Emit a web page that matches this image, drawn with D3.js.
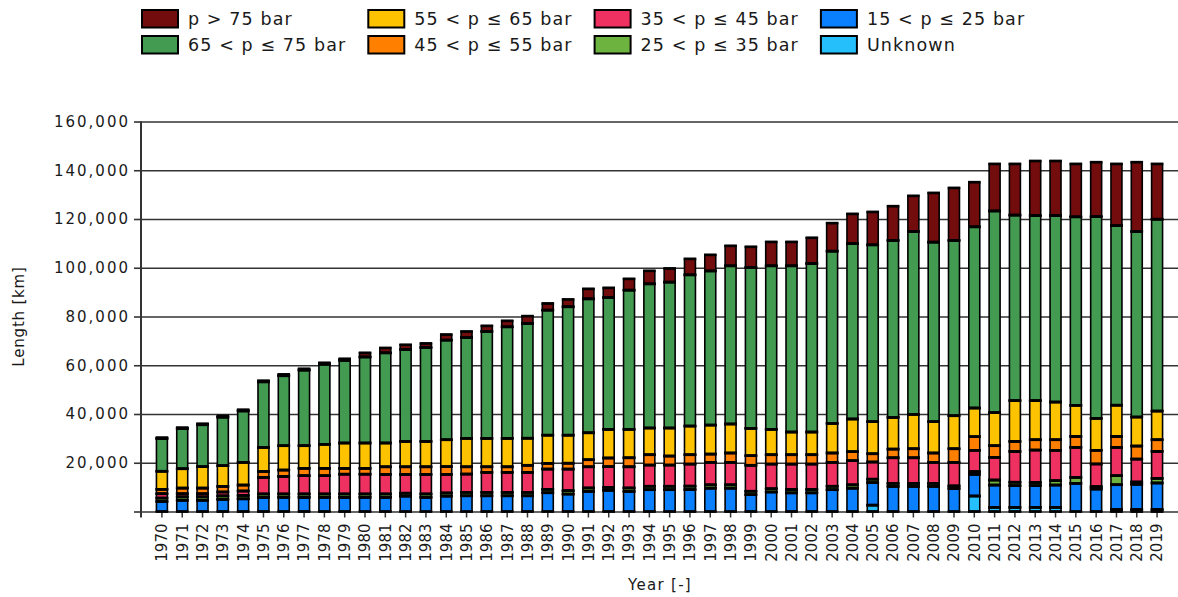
<!DOCTYPE html>
<html>
<head>
<meta charset="utf-8">
<script src="https://cdn.jsdelivr.net/npm/d3@7"></script>
<style>
  body { margin: 0; background: #fff; }
  text { font-family: Verdana, "DejaVu Sans", sans-serif; fill: #1a1a1a; }
</style>
</head>
<body>
<div id="chart"></div>
<script>
var years = [1970, 1971, 1972, 1973, 1974, 1975, 1976, 1977, 1978, 1979,
  1980, 1981, 1982, 1983, 1984, 1985, 1986, 1987, 1988, 1989,
  1990, 1991, 1992, 1993, 1994, 1995, 1996, 1997, 1998, 1999,
  2000, 2001, 2002, 2003, 2004, 2005, 2006, 2007, 2008, 2009,
  2010, 2011, 2012, 2013, 2014, 2015, 2016, 2017, 2018, 2019];

// length in km per pressure class
var unknown = [0, 0, 0, 0, 0, 0, 0, 0, 0, 0,
  0, 0, 0, 0, 0, 0, 0, 0, 0, 0,
  0, 0, 0, 0, 0, 0, 0, 0, 0, 0,
  0, 0, 0, 0, 0, 2600, 0, 0, 0, 0,
  6350, 1700, 1700, 1700, 1700, 0, 0, 800, 800, 800];
var p15to25 = [4100, 4600, 4600, 5000, 5200, 5800, 5800, 5800, 5800, 5800,
  5800, 5800, 6300, 5800, 6300, 6450, 6450, 6450, 6450, 7700,
  7150, 8250, 8700, 8250, 8950, 8950, 9000, 9550, 9550, 6900,
  8000, 7650, 7650, 8950, 9550, 9250, 10300, 10300, 10300, 9400,
  8900, 9150, 8900, 8900, 9150, 11550, 9200, 10200, 10350, 10900];
var p25to35 = [1400, 1400, 1400, 1400, 1400, 1400, 1400, 1400, 1400, 1400,
  1400, 1400, 1200, 1400, 1300, 1400, 1400, 1400, 1400, 1400,
  1400, 1400, 1200, 1400, 1400, 1400, 1400, 1400, 1400, 1400,
  1350, 1400, 1400, 1400, 1400, 1400, 1250, 1250, 1250, 1100,
  1100, 2050, 1400, 1300, 1800, 2450, 1000, 3700, 950, 1900];
var p35to45 = [1800, 1300, 1300, 1600, 1800, 6800, 7200, 7500, 7500, 8100,
  8100, 8000, 7700, 8000, 7600, 7500, 8200, 8200, 8200, 8300,
  8850, 8700, 8500, 8700, 8700, 8700, 9050, 9200, 9200, 10650,
  10100, 10400, 10400, 9800, 9900, 7050, 10500, 10500, 8600, 9650,
  8750, 9300, 12650, 13300, 12450, 12300, 9300, 11600, 9400, 11050];
var p45to55 = [1800, 2300, 2300, 2300, 2450, 2450, 2600, 3000, 3000, 2400,
  2400, 3150, 3150, 3150, 3200, 3000, 2300, 2300, 2900, 2350,
  2400, 2900, 3550, 3700, 4250, 3700, 3850, 3400, 3850, 3950,
  3850, 3850, 3850, 3850, 3700, 3400, 3550, 3700, 3850, 5600,
  5600, 4800, 4100, 4250, 4350, 4500, 5600, 4500, 5350, 4800];
var p55to65 = [7400, 7950, 8800, 8500, 9300, 9850, 10000, 9300, 9850, 10400,
  10400, 9750, 10400, 10400, 11050, 11650, 11650, 11650, 11100, 11550,
  11500, 11050, 11750, 11650, 10950, 11500, 11750, 11900, 11900, 11200,
  10400, 9300, 9300, 12150, 13400, 13150, 13000, 14100, 12850, 13550,
  11750, 13600, 16750, 16050, 15450, 12750, 13100, 12800, 11900, 11750];
var p65to75 = [13400, 16450, 17200, 19900, 21100, 26900, 28700, 31000, 32850, 33900,
  35300, 37000, 37750, 38550, 40850, 41400, 43870, 45770, 47100, 51300,
  52700, 54950, 54100, 57100, 59150, 59850, 62050, 63250, 64900, 66000,
  67100, 68200, 69150, 70650, 72000, 72550, 72600, 75030, 73650, 71900,
  74350, 82700, 76100, 75900, 76500, 77350, 82800, 73700, 76150, 78700];
var over75 = [400, 400, 400, 500, 500, 450, 550, 550, 600, 650,
  1700, 2000, 1900, 1650, 2300, 2450, 2300, 2460, 3000, 2750,
  3000, 4100, 3950, 4650, 5350, 5600, 6550, 6600, 8200, 8500,
  9800, 9800, 10550, 11500, 12150, 13500, 14050, 14620, 20200, 21550,
  18300, 19300, 21000, 22400, 22400, 21700, 22300, 25300, 28400, 22700];

var seriesKeys = ["Unknown", "15 < p ≤ 25 bar", "25 < p ≤ 35 bar", "35 < p ≤ 45 bar",
  "45 < p ≤ 55 bar", "55 < p ≤ 65 bar", "65 < p ≤ 75 bar", "p > 75 bar"];
var seriesValues = [unknown, p15to25, p25to35, p35to45, p45to55, p55to65, p65to75, over75];
var seriesColors = ["#25c0fc", "#0a80ff", "#6db33f", "#ef3161",
  "#ff8000", "#fec300", "#439b52", "#730c0c"];
// legend is filled column by column
var legendOrder = ["p > 75 bar", "65 < p ≤ 75 bar", "55 < p ≤ 65 bar", "45 < p ≤ 55 bar",
  "35 < p ≤ 45 bar", "25 < p ≤ 35 bar", "15 < p ≤ 25 bar", "Unknown"];
var yTicks = [0, 20000, 40000, 60000, 80000, 100000, 120000, 140000, 160000];

var rows = years.map(function (yr, i) {
  var row = { year: yr };
  seriesKeys.forEach(function (k, j) { row[k] = seriesValues[j][i]; });
  return row;
});

var color = d3.scaleOrdinal().domain(seriesKeys).range(seriesColors);

var W = 1178, H = 597;
var plotLeft = 141, plotRight = 1178, plotTop = 121.5, plotBottom = 511.5;

var svg = d3.select("#chart").append("svg")
  .attr("width", W).attr("height", H);

var x = d3.scaleBand()
  .domain(years)
  .range([plotLeft, plotRight])
  .paddingInner(0.46)
  .paddingOuter(0.76);

var y = d3.scaleLinear()
  .domain([0, 160000])
  .range([plotBottom, plotTop]);

// grid lines
svg.append("g")
  .attr("transform", "translate(" + plotLeft + ",0)")
  .call(d3.axisLeft(y).tickValues(yTicks).tickSize(-(plotRight - plotLeft)).tickFormat(""))
  .call(function (g) { g.select(".domain").remove(); })
  .call(function (g) {
    g.selectAll(".tick line").attr("stroke", "#333").attr("stroke-width", 1.6);
  });

// y axis with labels
svg.append("g")
  .attr("transform", "translate(" + plotLeft + ",0)")
  .call(d3.axisLeft(y).tickValues(yTicks).tickSize(7).tickPadding(6)
    .tickFormat(function (d) { return d === 0 ? "" : d3.format(",")(d); }))
  .call(function (g) { g.select(".domain").remove(); })
  .call(function (g) {
    g.selectAll(".tick line").attr("stroke", "#333").attr("stroke-width", 1.6);
    g.selectAll(".tick text")
      .style("font-size", "15px")
      .style("letter-spacing", "2px")
      .attr("dx", "2px")
      .style("font-family", "Verdana, 'DejaVu Sans', sans-serif")
      .attr("fill", "#1a1a1a");
  });

svg.append("line")
  .attr("x1", plotLeft).attr("x2", plotLeft)
  .attr("y1", plotTop).attr("y2", plotBottom + 6)
  .attr("stroke", "#333").attr("stroke-width", 2);

// x axis
svg.append("g")
  .attr("transform", "translate(0," + plotBottom + ")")
  .call(d3.axisBottom(x).tickSize(6))
  .call(function (g) { g.select(".domain").remove(); })
  .call(function (g) {
    g.selectAll(".tick line").attr("stroke", "#333").attr("stroke-width", 1.5);
    g.selectAll(".tick text")
      .attr("transform", "rotate(-90)")
      .attr("x", -12)
      .attr("y", 0)
      .attr("dy", "0.36em")
      .style("text-anchor", "end")
      .style("font-size", "15px")
      .style("font-family", "Verdana, 'DejaVu Sans', sans-serif")
      .attr("fill", "#1a1a1a");
  });

// stacked bars
var stacked = d3.stack().keys(seriesKeys)(rows);

var layers = svg.append("g").attr("class", "bars")
  .selectAll("g")
  .data(stacked)
  .enter()
  .append("g")
  .attr("fill", function (d) { return color(d.key); });

layers.selectAll("rect")
  .data(function (d) { return d.filter(function (s) { return s[1] - s[0] > 0; }); })
  .enter()
  .append("rect")
  .attr("x", function (d) { return x(d.data.year); })
  .attr("width", x.bandwidth())
  .attr("y", function (d) { return y(d[1]); })
  .attr("height", function (d) { return y(d[0]) - y(d[1]); })
  .attr("stroke", "black")
  .attr("stroke-width", 1.6);

// horizontal segment edges are drawn heavier
var edges = [];
stacked.forEach(function (layer) {
  layer.forEach(function (s) {
    if (s[1] - s[0] > 0) {
      edges.push({ year: s.data.year, v: s[0] });
      edges.push({ year: s.data.year, v: s[1] });
    }
  });
});

svg.append("g").selectAll("line")
  .data(edges)
  .enter()
  .append("line")
  .attr("x1", function (d) { return x(d.year) - 0.8; })
  .attr("x2", function (d) { return x(d.year) + x.bandwidth() + 0.8; })
  .attr("y1", function (d) { return y(d.v); })
  .attr("y2", function (d) { return y(d.v); })
  .attr("stroke", "black")
  .attr("stroke-width", 2.7);

// axis titles
svg.append("text")
  .attr("transform", "translate(24," + ((plotTop + plotBottom) / 2) + ") rotate(-90)")
  .style("text-anchor", "middle")
  .style("font-size", "15px")
  .style("letter-spacing", "0.8px")
  .text("Length [km]");

svg.append("text")
  .attr("x", 660)
  .attr("y", 590)
  .style("text-anchor", "middle")
  .style("font-size", "15px")
  .style("letter-spacing", "1.3px")
  .text("Year [-]");

// legend
var legend = svg.append("g").attr("class", "legend");

var item = legend.selectAll("g")
  .data(legendOrder)
  .enter()
  .append("g")
  .attr("transform", function (d, i) {
    var col = Math.floor(i / 2), row = i % 2;
    return "translate(" + (142 + col * 226.3) + "," + (10 + row * 26) + ")";
  });

item.append("rect")
  .attr("width", 36)
  .attr("height", 17.5)
  .attr("fill", function (d) { return color(d); })
  .attr("stroke", "black")
  .attr("stroke-width", 2);

item.append("text")
  .attr("x", 46)
  .attr("y", 15)
  .style("font-size", "17.5px")
  .style("letter-spacing", "1.1px")
  .text(function (d) { return d; });
</script>
</body>
</html>
